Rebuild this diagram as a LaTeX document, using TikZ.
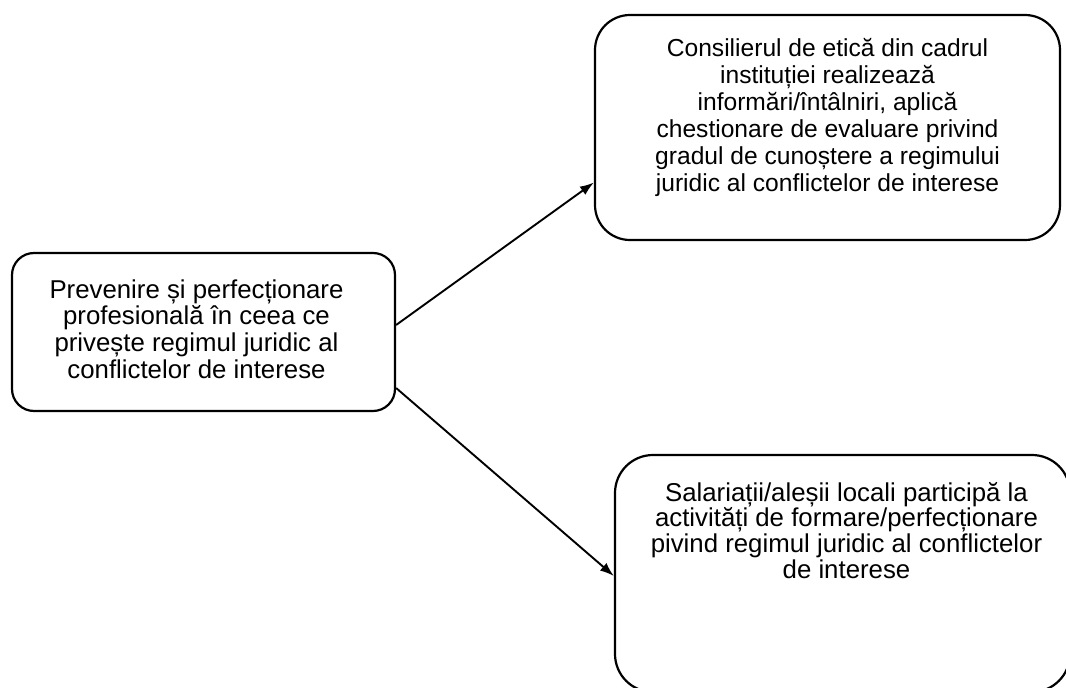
\documentclass[tikz,border=0pt]{standalone}
\usepackage{fontspec}
\setmainfont{Liberation Sans}
\usetikzlibrary{arrows.meta,positioning}
\begin{document}
\begin{tikzpicture}[x=1pt,y=-1pt,
  box/.style={draw=black, line width=2.2pt, rectangle, inner sep=0pt},
  txt/.style={inner sep=0pt, align=center},
  arr/.style={draw=black, line width=1.9pt, -{Latex[length=14pt,width=10pt]}}]
\useasboundingbox (0,0) rectangle (1066,688);
\clip (0,0) rectangle (1066,688);
% left box: 12..395 x, 253..411 y
\node[box, rounded corners=22pt, minimum width=383pt, minimum height=158pt] (L) at (203.5,332) {};
\node[txt, font=\fontsize{25.8}{26.7}\selectfont] (Lt) at ([xshift=-7pt,yshift=3pt]L.center)
  {Prevenire și perfecționare\\profesională în ceea ce\\privește regimul juridic al\\conflictelor de interese};
% top-right box: 595..1060 x, 15..240 y
\node[box, rounded corners=35pt, minimum width=465pt, minimum height=225pt] (T) at (827.5,127.5) {};
\node[txt, font=\fontsize{24.6}{27}\selectfont] (Tt) at ([yshift=10pt]T.center)
  {Consilierul de etică din cadrul\\instituției realizează\\informări/întâlniri, aplică\\chestionare de evaluare privind\\gradul de cunoștere a regimului\\juridic al conflictelor de interese};
% bottom-right box: 615..1070 x, 455..692 y
\node[box, rounded corners=38pt, minimum width=455pt, minimum height=237pt] (B) at (842.5,573.5) {};
\node[txt, font=\fontsize{25.8}{25.7}\selectfont, anchor=north] (Bt) at ([xshift=4pt,yshift=-28pt]B.north)
  {Salariații/aleșii locali participă la\\activități de formare/perfecționare\\pivind regimul juridic al conflictelor\\de interese};
\draw[arr] ([yshift=7pt]L.east) -- ([yshift=-55pt]T.west);
\draw[arr] ([yshift=-56pt]L.east) -- ([yshift=-2.5pt]B.west);
\end{tikzpicture}
\end{document}
